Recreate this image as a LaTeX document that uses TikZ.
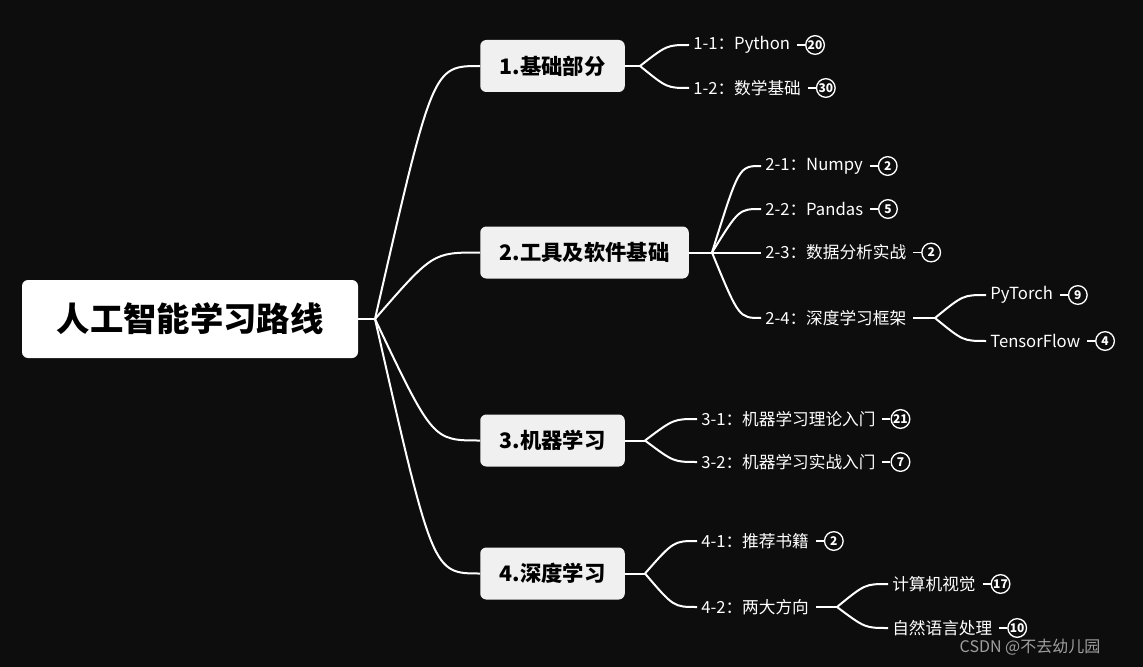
\documentclass[tikz,border=0pt]{standalone}
\usepackage{fontspec}
\setmainfont{Noto Sans CJK SC}
\usepackage{tikz}
\usetikzlibrary{calc}
\usetikzlibrary{positioning}
\definecolor{bg}{HTML}{0D0D0D}
\definecolor{boxgray}{HTML}{F0F0F0}
\tikzset{
	conn/.style={draw=white,line width=1.5pt},
	rootbox/.style={fill=white,rounded corners=4.5pt,minimum width=252pt,minimum height=58.5pt,text=black,font=\fontsize{25}{25}\selectfont\bfseries},
	topic/.style={fill=boxgray,rounded corners=4.5pt,anchor=west,inner xsep=14.5pt,minimum height=39pt,text=black,font=\fontsize{16}{16}\selectfont\bfseries},
	leaf/.style={anchor=west,inner xsep=3pt,inner ysep=0pt,text=white,font=\fontsize{12.5}{12.5}\selectfont},
	num/.style={circle,draw=white,line width=1pt,inner sep=0pt,minimum size=14pt,text=white,font=\fontsize{9}{9}\selectfont\bfseries},
}
\newcommand\curvebranch[2]{\draw[conn] let \p1=(#1), \p2=(#2) in (\p1) .. controls ({\x1+0.55*(\x2-\x1)},\y2) and ({\x1+0.55*(\x2-\x1)},\y2) .. (\p2);}
\newcommand\badge[3]{\node[num,right=8pt of #1] (#2) {#3}; \draw[conn,line width=1.1pt] ([xshift=2pt]#1.east) -- (#2);}

\begin{document}
\begin{tikzpicture}[x=0.75pt,y=-0.75pt]
	\fill[bg] (0,0) rectangle (1143,667);
	\node[rootbox] (root) at (190,319) {人工智能学习路线};
	\coordinate (j0) at (375,319);
	\draw[conn] (root.east) -- (j0);
	\node[topic] (jichu) at (480,66) {1.基础部分};
	\node[topic] (gongju) at (480,252.5) {2.工具及软件基础};
	\node[topic] (jiqi) at (480,440.5) {3.机器学习};
	\node[topic] (shendu) at (480,573.5) {4.深度学习};
	\foreach \t in {jichu,gongju,jiqi,shendu} {\curvebranch{j0}{\t.west}}
	% 1
	\coordinate (j1) at (640,66);
	\draw[conn] (jichu.east) -- (j1);
	\node[leaf] (python) at (689,45) {1-1：Python};
	\node[leaf] (shuxue) at (689,88) {1-2：数学基础};
	\foreach \t in {python,shuxue} {\curvebranch{j1}{\t.west}}
	\badge{python}{n11}{20}
	\badge{shuxue}{n12}{30}
	% 2
	\coordinate (j2) at (712,252.5);
	\draw[conn] (gongju.east) -- (j2);
	\node[leaf] (numpy) at (761,166) {2-1：Numpy};
	\node[leaf] (pandas) at (761,209) {2-2：Pandas};
	\node[leaf] (fenxi) at (761,252.5) {2-3：数据分析实战};
	\node[leaf] (kuangjia) at (761,318) {2-4：深度学习框架};
	\foreach \t in {numpy,pandas,fenxi,kuangjia} {\curvebranch{j2}{\t.west}}
	\badge{numpy}{n21}{2}
	\badge{pandas}{n22}{5}
	\badge{fenxi}{n23}{2}
	\coordinate (j24) at (935,318);
	\draw[conn] ([xshift=2pt]kuangjia.east) -- (j24);
	\node[leaf] (pytorch) at (986,295) {PyTorch};
	\node[leaf] (tensorflow) at (986,341) {TensorFlow};
	\foreach \t in {pytorch,tensorflow} {\curvebranch{j24}{\t.west}}
	\badge{pytorch}{n241}{9}
	\badge{tensorflow}{n242}{4}
	% 3
	\coordinate (j3) at (645,440.5);
	\draw[conn] (jiqi.east) -- (j3);
	\node[leaf] (lilun) at (697,419) {3-1：机器学习理论入门};
	\node[leaf] (shizhan) at (697,462) {3-2：机器学习实战入门};
	\foreach \t in {lilun,shizhan} {\curvebranch{j3}{\t.west}}
	\badge{lilun}{n31}{21}
	\badge{shizhan}{n32}{7}
	% 4
	\coordinate (j4) at (645,573.5);
	\draw[conn] (shendu.east) -- (j4);
	\node[leaf] (shuji) at (697,541) {4-1：推荐书籍};
	\node[leaf] (fangxiang) at (697,607) {4-2：两大方向};
	\foreach \t in {shuji,fangxiang} {\curvebranch{j4}{\t.west}}
	\badge{shuji}{n41}{2}
	\coordinate (j42) at (837,607);
	\draw[conn] ([xshift=2pt]fangxiang.east) -- (j42);
	\node[leaf] (shijue) at (888,584) {计算机视觉};
	\node[leaf] (yuyan) at (888,628) {自然语言处理};
	\foreach \t in {shijue,yuyan} {\curvebranch{j42}{\t.west}}
	\badge{shijue}{n421}{17}
	\badge{yuyan}{n422}{10}
	\node[anchor=west,text=gray!75,font=\fontsize{12}{12}\selectfont] (csdn) at (955,647) {CSDN @不去幼儿园};
\end{tikzpicture}
\end{document}
